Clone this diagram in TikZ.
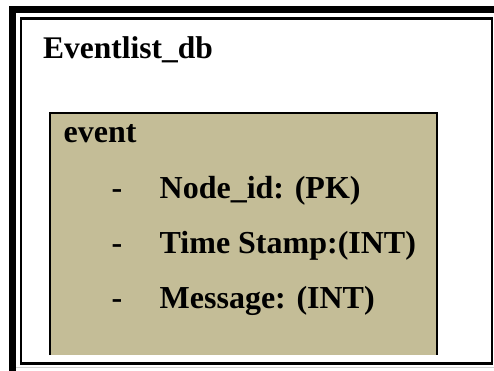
\documentclass[tikz,border=0pt]{standalone}
\usepackage{fontspec}
\setmainfont{Liberation Serif}
\definecolor{tablefill}{HTML}{C4BD97}
\tikzset{
  frameline/.style={line width=2.5pt, draw=black},
  title/.style={anchor=base west, inner sep=0pt, font=\fontsize{31.5}{36}\selectfont\bfseries},
  field/.style={anchor=base west, inner sep=0pt, font=\fontsize{32}{36}\selectfont\bfseries},
}
\begin{document}
\begin{tikzpicture}[x=1pt, y=-1pt]
  \useasboundingbox (0,0) rectangle (494,370);
  \clip (0,0) rectangle (494,370);
  % outer double frame
  \draw[line width=7pt] (12.5,9.5) rectangle (520,400);
  \draw[gray!35, line width=1pt] (16,367.5) -- (494,367.5);
  \draw[frameline] (21,18.5) rectangle (492,363.5);
  % database name
  \node[title] (db) at (43,58.5) {Eventlist\_db};
  % table box, open at the bottom
  \fill[tablefill] (50,113) rectangle (437,355);
  \draw[frameline] (50,355) -- (50,113) -- (437,113) -- (437,355);
  % table name and its columns
  \node[field] (tbl) at (63.5,142) {event};
  \node[field] (d1) at (111.5,198) {-};
  \node[field] (f1) at (159.5,198) {Node\_id: (PK)};
  \node[field] (d2) at (111.5,253) {-};
  \node[field] (f2) at (159.5,253) {Time Stamp:(INT)};
  \node[field] (d3) at (111.5,308) {-};
  \node[field] (f3) at (159.5,308) {Message: (INT)};
\end{tikzpicture}
\end{document}
